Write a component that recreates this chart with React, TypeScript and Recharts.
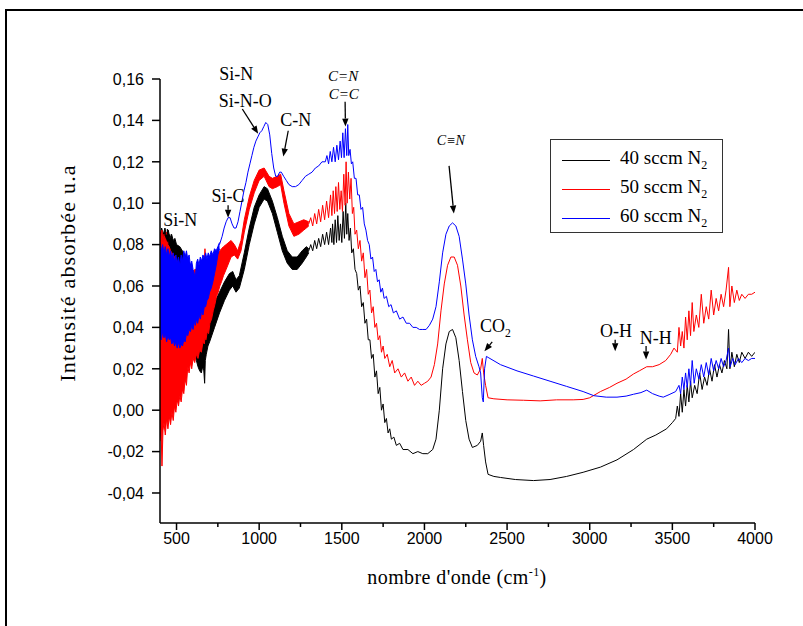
import React from 'react';
import { ComposedChart, Line, Area, XAxis, YAxis, ReferenceDot, ReferenceLine } from 'recharts';

// FTIR spectra.
// *Band arrays: dense, noisy stretches drawn as an envelope [wavenumber, low, high]
// *Trace arrays: the rest of each spectrum as [wavenumber, absorbance]

const band40: [number, number, number][] = [
  [400, 0.064, 0.084], [410, 0.066, 0.088], [420, 0.065, 0.085], [430, 0.068, 0.088], [440, 0.066, 0.084],
  [450, 0.067, 0.087], [460, 0.064, 0.083], [470, 0.065, 0.085], [480, 0.062, 0.082], [490, 0.063, 0.083],
  [500, 0.06, 0.08], [520, 0.058, 0.079], [550, 0.054, 0.075], [580, 0.046, 0.07], [610, 0.03, 0.064],
  [620, 0.024, 0.062], [630, 0.021, 0.06], [640, 0.019, 0.058], [650, 0.018, 0.056], [658, 0.021, 0.054],
  [665, 0.019, 0.05], [670, 0.013, 0.048], [674, 0.024, 0.046], [680, 0.027, 0.044], [690, 0.031, 0.045],
  [700, 0.033, 0.046], [730, 0.04, 0.052], [760, 0.047, 0.057], [790, 0.053, 0.062], [820, 0.058, 0.066],
  [840, 0.06, 0.067], [860, 0.057, 0.063], [880, 0.059, 0.065], [910, 0.068, 0.076], [940, 0.08, 0.088],
  [970, 0.09, 0.098], [1000, 0.098, 0.104], [1030, 0.102, 0.108], [1050, 0.101, 0.107], [1080, 0.095, 0.101],
  [1110, 0.086, 0.093], [1140, 0.077, 0.084], [1170, 0.071, 0.077], [1200, 0.068, 0.074], [1230, 0.068, 0.074],
  [1260, 0.071, 0.077], [1285, 0.074, 0.079], [1300, 0.076, 0.078],
];

const trace40: [number, number][] = [
  [1300, 0.077], [1312, 0.08], [1324, 0.077], [1336, 0.082], [1348, 0.078], [1360, 0.083], [1372, 0.079], [1384, 0.085],
  [1396, 0.08], [1408, 0.086], [1420, 0.08], [1432, 0.088], [1440, 0.081], [1444, 0.09], [1452, 0.08],
  [1460, 0.092], [1468, 0.081], [1476, 0.094], [1484, 0.082], [1492, 0.09], [1500, 0.081], [1508, 0.096], [1516, 0.083],
  [1524, 0.1], [1530, 0.085], [1536, 0.095], [1544, 0.082], [1552, 0.088], [1560, 0.076], [1570, 0.078], [1580, 0.068],
  [1590, 0.066], [1600, 0.058], [1610, 0.06], [1620, 0.05], [1630, 0.052], [1640, 0.042], [1650, 0.044], [1660, 0.034],
  [1670, 0.034], [1680, 0.025], [1690, 0.027], [1700, 0.016], [1710, 0.019], [1720, 0.008], [1730, 0.011], [1740, 0.0],
  [1750, 0.003], [1760, -0.006], [1770, -0.004], [1780, -0.011], [1790, -0.009], [1800, -0.014], [1815, -0.013], [1830, -0.017],
  [1850, -0.016], [1870, -0.019], [1900, -0.019], [1930, -0.021], [1960, -0.02], [1990, -0.021], [2020, -0.021], [2050, -0.019],
  [2070, -0.014], [2090, 0.0], [2110, 0.02], [2130, 0.032], [2150, 0.038], [2170, 0.039], [2190, 0.035], [2210, 0.024],
  [2230, 0.009], [2250, -0.005], [2270, -0.014], [2290, -0.018], [2320, -0.017], [2340, -0.015], [2350, -0.011], [2358, -0.017],
  [2370, -0.025], [2385, -0.031], [2420, -0.032], [2460, -0.0325], [2550, -0.0335], [2660, -0.034], [2760, -0.0335], [2860, -0.032],
  [2960, -0.03], [3065, -0.0275], [3165, -0.024], [3265, -0.019], [3345, -0.014], [3400, -0.012], [3465, -0.009], [3500, -0.006],
  [3520, -0.004], [3530, 0.002], [3540, -0.003], [3550, 0.008], [3560, -0.001], [3570, 0.01], [3580, 0.002], [3590, 0.012],
  [3600, 0.004], [3610, 0.014], [3620, 0.006], [3635, 0.012], [3650, 0.008], [3665, 0.018], [3680, 0.01], [3695, 0.016],
  [3710, 0.012], [3725, 0.02], [3740, 0.014], [3755, 0.022], [3770, 0.016], [3785, 0.022], [3800, 0.018], [3815, 0.024],
  [3830, 0.02], [3840, 0.039], [3848, 0.02], [3860, 0.028], [3875, 0.021], [3890, 0.027], [3905, 0.023], [3920, 0.028],
  [3940, 0.025], [3960, 0.028], [3980, 0.026], [4000, 0.028],
];

const band50: [number, number, number][] = [
  [400, -0.015, 0.086], [406, -0.008, 0.083], [412, -0.027, 0.087], [418, -0.01, 0.081], [424, -0.006, 0.085],
  [432, -0.012, 0.082], [440, -0.004, 0.086], [448, -0.009, 0.08], [456, -0.003, 0.079], [464, -0.007, 0.077],
  [472, -0.001, 0.076], [480, -0.005, 0.075], [488, 0.002, 0.074], [496, -0.001, 0.073], [504, 0.005, 0.072],
  [512, 0.002, 0.071], [520, 0.007, 0.07], [528, 0.004, 0.069], [536, 0.01, 0.068], [544, 0.008, 0.067],
  [552, 0.015, 0.066], [560, 0.012, 0.066], [568, 0.021, 0.065], [576, 0.018, 0.066], [584, 0.023, 0.066],
  [592, 0.02, 0.067], [600, 0.025, 0.067], [610, 0.023, 0.068], [620, 0.027, 0.068], [630, 0.025, 0.069],
  [640, 0.029, 0.069], [650, 0.028, 0.07], [660, 0.033, 0.07], [668, 0.032, 0.071], [672, 0.035, 0.078],
  [678, 0.034, 0.07], [686, 0.038, 0.07], [694, 0.037, 0.071], [702, 0.042, 0.071], [712, 0.044, 0.072],
  [722, 0.048, 0.073], [732, 0.051, 0.074], [742, 0.055, 0.075], [752, 0.057, 0.076], [762, 0.06, 0.077],
  [772, 0.062, 0.078], [784, 0.065, 0.079], [800, 0.068, 0.08], [830, 0.074, 0.082], [850, 0.075, 0.08],
  [870, 0.073, 0.077], [890, 0.077, 0.082], [910, 0.086, 0.092], [940, 0.097, 0.103], [970, 0.105, 0.111],
  [1000, 0.111, 0.116], [1030, 0.113, 0.117], [1060, 0.108, 0.113], [1080, 0.107, 0.112], [1110, 0.108, 0.113],
  [1130, 0.109, 0.114], [1150, 0.1, 0.106], [1180, 0.089, 0.095], [1210, 0.084, 0.09], [1240, 0.085, 0.091],
  [1270, 0.087, 0.092], [1300, 0.089, 0.091],
];

const trace50: [number, number][] = [
  [1300, 0.09], [1312, 0.093], [1324, 0.089], [1336, 0.095], [1348, 0.09], [1360, 0.097], [1372, 0.091], [1384, 0.099],
  [1396, 0.092], [1408, 0.101], [1420, 0.093], [1432, 0.104], [1440, 0.094], [1448, 0.106], [1456, 0.095],
  [1464, 0.108], [1472, 0.096], [1480, 0.11], [1488, 0.097], [1496, 0.106], [1504, 0.096], [1512, 0.114], [1520, 0.099],
  [1526, 0.12], [1532, 0.1], [1540, 0.115], [1548, 0.102], [1556, 0.112], [1564, 0.095], [1572, 0.098], [1580, 0.085],
  [1590, 0.087], [1600, 0.078], [1610, 0.082], [1620, 0.072], [1630, 0.076], [1640, 0.064], [1650, 0.068], [1660, 0.056],
  [1670, 0.058], [1680, 0.047], [1690, 0.05], [1700, 0.04], [1710, 0.042], [1720, 0.034], [1730, 0.036], [1740, 0.028],
  [1750, 0.031], [1760, 0.025], [1775, 0.027], [1790, 0.021], [1805, 0.024], [1820, 0.018], [1840, 0.02], [1860, 0.016],
  [1880, 0.018], [1900, 0.014], [1920, 0.016], [1940, 0.012], [1960, 0.014], [1980, 0.012], [2000, 0.013], [2020, 0.014],
  [2040, 0.016], [2060, 0.022], [2080, 0.032], [2100, 0.048], [2120, 0.061], [2140, 0.07], [2160, 0.074], [2180, 0.074],
  [2200, 0.07], [2220, 0.06], [2240, 0.046], [2260, 0.034], [2280, 0.023], [2300, 0.018], [2320, 0.017], [2340, 0.02],
  [2350, 0.025], [2358, 0.018], [2370, 0.012], [2385, 0.006], [2420, 0.0055], [2500, 0.005], [2600, 0.0048], [2700, 0.0045],
  [2800, 0.005], [2900, 0.005], [2960, 0.0052], [3000, 0.006], [3065, 0.009], [3120, 0.011], [3165, 0.013], [3220, 0.015],
  [3265, 0.0175], [3300, 0.019], [3345, 0.021], [3380, 0.021], [3420, 0.022], [3460, 0.024], [3490, 0.027], [3510, 0.03],
  [3530, 0.028], [3540, 0.04], [3550, 0.031], [3560, 0.038], [3570, 0.03], [3580, 0.045], [3590, 0.034], [3600, 0.048],
  [3610, 0.036], [3620, 0.052], [3630, 0.038], [3645, 0.046], [3660, 0.04], [3675, 0.056], [3690, 0.042], [3705, 0.05],
  [3720, 0.044], [3735, 0.058], [3750, 0.046], [3765, 0.054], [3780, 0.048], [3795, 0.056], [3810, 0.05], [3825, 0.058],
  [3840, 0.069], [3848, 0.05], [3860, 0.06], [3875, 0.052], [3890, 0.058], [3905, 0.053], [3920, 0.056], [3940, 0.054],
  [3960, 0.056], [3980, 0.056], [4000, 0.057],
];

const band60: [number, number, number][] = [
  [400, 0.036, 0.081], [408, 0.034, 0.077], [416, 0.038, 0.08], [424, 0.035, 0.076], [432, 0.037, 0.079],
  [440, 0.033, 0.075], [448, 0.036, 0.078], [456, 0.034, 0.074], [464, 0.035, 0.077], [472, 0.032, 0.073],
  [480, 0.034, 0.076], [488, 0.031, 0.072], [496, 0.033, 0.075], [504, 0.03, 0.071], [512, 0.033, 0.074],
  [520, 0.03, 0.07], [528, 0.032, 0.075], [536, 0.031, 0.072], [544, 0.034, 0.077], [552, 0.033, 0.074],
  [560, 0.037, 0.077], [568, 0.036, 0.073], [576, 0.039, 0.075], [584, 0.038, 0.07], [592, 0.041, 0.072],
  [600, 0.039, 0.068], [608, 0.043, 0.066], [614, 0.041, 0.064], [620, 0.044, 0.071], [628, 0.042, 0.073],
  [636, 0.046, 0.07], [644, 0.044, 0.074], [652, 0.048, 0.072], [660, 0.046, 0.075], [668, 0.05, 0.073],
  [676, 0.05, 0.076], [684, 0.053, 0.073], [692, 0.054, 0.076], [700, 0.057, 0.074], [710, 0.059, 0.077],
  [720, 0.062, 0.075], [730, 0.066, 0.078], [740, 0.07, 0.077], [750, 0.075, 0.079], [760, 0.078, 0.081],
];

const trace60: [number, number][] = [
  [760, 0.08], [776, 0.084], [788, 0.088], [800, 0.091], [812, 0.093], [824, 0.093],
  [836, 0.09], [848, 0.088], [860, 0.088], [872, 0.091], [884, 0.096], [896, 0.101], [908, 0.106], [920, 0.11],
  [932, 0.115], [944, 0.119], [956, 0.123], [968, 0.127], [980, 0.13], [992, 0.132], [1004, 0.134], [1016, 0.135],
  [1028, 0.137], [1040, 0.139], [1052, 0.138], [1064, 0.133], [1076, 0.124], [1088, 0.117], [1100, 0.113], [1112, 0.113],
  [1124, 0.115], [1134, 0.115], [1148, 0.113], [1164, 0.111], [1180, 0.109], [1200, 0.108], [1220, 0.108], [1240, 0.109],
  [1260, 0.111], [1280, 0.113], [1300, 0.114], [1320, 0.115], [1340, 0.117], [1360, 0.118], [1380, 0.12], [1400, 0.12],
  [1410, 0.123], [1420, 0.119], [1430, 0.125], [1440, 0.12], [1450, 0.127], [1460, 0.12], [1470, 0.128], [1480, 0.121],
  [1490, 0.13], [1498, 0.122], [1506, 0.134], [1514, 0.122], [1522, 0.136], [1530, 0.123], [1536, 0.138], [1542, 0.123],
  [1550, 0.126], [1558, 0.119], [1566, 0.12], [1576, 0.112], [1586, 0.112], [1596, 0.104], [1606, 0.104], [1616, 0.097],
  [1626, 0.098], [1636, 0.09], [1646, 0.087], [1656, 0.082], [1666, 0.08], [1676, 0.073], [1686, 0.074], [1696, 0.067],
  [1706, 0.068], [1716, 0.062], [1726, 0.063], [1736, 0.057], [1746, 0.059], [1756, 0.054], [1770, 0.055], [1784, 0.05],
  [1798, 0.051], [1812, 0.047], [1830, 0.048], [1850, 0.044], [1870, 0.045], [1890, 0.042], [1910, 0.042], [1930, 0.04],
  [1950, 0.04], [1970, 0.039], [1990, 0.039], [2010, 0.039], [2030, 0.041], [2050, 0.044], [2070, 0.05], [2090, 0.062],
  [2110, 0.076], [2130, 0.085], [2150, 0.089], [2170, 0.0905], [2190, 0.089], [2210, 0.084], [2230, 0.073], [2250, 0.061],
  [2270, 0.046], [2290, 0.034], [2310, 0.026], [2330, 0.021], [2340, 0.018], [2350, 0.006], [2356, 0.004], [2364, 0.02],
  [2375, 0.026], [2385, 0.0255], [2460, 0.022], [2560, 0.019], [2660, 0.0165], [2760, 0.014], [2860, 0.0115], [2960, 0.009],
  [3025, 0.007], [3100, 0.0063], [3165, 0.0063], [3220, 0.0068], [3265, 0.0077], [3310, 0.0085], [3345, 0.0097], [3380, 0.008],
  [3420, 0.0068], [3445, 0.0063], [3480, 0.0075], [3520, 0.009], [3540, 0.012], [3550, 0.008], [3560, 0.016], [3570, 0.01],
  [3580, 0.018], [3590, 0.011], [3600, 0.02], [3610, 0.012], [3620, 0.024], [3632, 0.013], [3645, 0.02], [3660, 0.015],
  [3675, 0.022], [3690, 0.016], [3705, 0.023], [3720, 0.017], [3735, 0.025], [3750, 0.019], [3765, 0.024], [3780, 0.02],
  [3795, 0.025], [3810, 0.021], [3825, 0.024], [3840, 0.03], [3850, 0.021], [3865, 0.025], [3880, 0.022], [3900, 0.025],
  [3920, 0.023], [3940, 0.025], [3960, 0.024], [3980, 0.025], [4000, 0.025],
];

const seriesNames = ['40 sccm N', '50 sccm N', '60 sccm N'];
const seriesColors = ['#000000', '#ff0000', '#0000ff'];
const seriesBands = [band40, band50, band60];
const seriesTraces = [trace40, trace50, trace60];

const xTicks = [500, 750, 1000, 1250, 1500, 1750, 2000, 2250, 2500, 2750, 3000, 3250, 3500, 3750, 4000];
const yTicks = [-0.05, -0.04, -0.03, -0.02, -0.01, 0, 0.01, 0.02, 0.03, 0.04, 0.05, 0.06, 0.07, 0.08, 0.09, 0.1, 0.11, 0.12, 0.13, 0.14, 0.15, 0.16];

// band assignments: label text placed at [x, y] (data units)
const bandLabels = [
  { text: 'Si-N', x: 523, y: 0.089, size: 18, italic: false },
  { text: 'Si-C', x: 812, y: 0.1005, size: 18, italic: false },
  { text: 'Si-N', x: 861, y: 0.1595, size: 18, italic: false },
  { text: 'Si-N-O', x: 916, y: 0.1465, size: 18, italic: false },
  { text: 'C-N', x: 1222, y: 0.1375, size: 18, italic: false },
  { text: 'C=N', x: 1508, y: 0.159, size: 15, italic: true },
  { text: 'C=C', x: 1512, y: 0.1505, size: 15, italic: true },
  { text: 'C\u2261N', x: 2160, y: 0.128, size: 14, italic: true },
  { text: 'CO', sub: '2', x: 2430, y: 0.038, size: 18, italic: false },
  { text: 'O-H', x: 3159, y: 0.0355, size: 18, italic: false },
  { text: 'N-H', x: 3400, y: 0.032, size: 18, italic: false },
];

const bandArrows = [
  { x1: 445, y1: 0.0875, x2: 445, y2: 0.081 },
  { x1: 812, y1: 0.099, x2: 812, y2: 0.093 },
  { x1: 898, y1: 0.1455, x2: 994, y2: 0.1335 },
  { x1: 1176, y1: 0.135, x2: 1146, y2: 0.1225 },
  { x1: 1520, y1: 0.149, x2: 1522, y2: 0.137 },
  { x1: 2149, y1: 0.118, x2: 2178, y2: 0.095 },
  { x1: 2410, y1: 0.033, x2: 2363, y2: 0.0285 },
  { x1: 3154, y1: 0.034, x2: 3154, y2: 0.0285 },
  { x1: 3341, y1: 0.031, x2: 3341, y2: 0.0245 },
];

const toPoints = (pairs: [number, number][]) => pairs.map(([x, y]) => ({ x, y }));
const toRange = (rows: [number, number, number][]) => rows.map(([x, lo, hi]) => ({ x, range: [lo, hi] }));

const serif = "'Liberation Serif', 'Times New Roman', serif";
const sans = "'Liberation Sans', Arial, sans-serif";

const XTick = ({ x, y, payload }: any) => {
  const major = payload.value % 500 === 0;
  return (
    <g>
      <line x1={x} y1={y} x2={x} y2={y + (major ? 7 : 4)} stroke="#000" strokeWidth={1.5} />
      {major && (
        <text x={x} y={y + 21} textAnchor="middle" fontFamily={sans} fontSize={16} fill="#000">
          {payload.value}
        </text>
      )}
    </g>
  );
};

const YTick = ({ x, y, payload }: any) => {
  const major = Math.round(payload.value * 100) % 2 === 0;
  return (
    <g>
      <line x1={x - (major ? 8 : 4)} y1={y} x2={x} y2={y} stroke="#000" strokeWidth={1.5} />
      {major && (
        <text x={x - 16} y={y} dy="0.36em" textAnchor="end" fontFamily={sans} fontSize={16} fill="#000">
          {payload.value.toFixed(2).replace('.', ',')}
        </text>
      )}
    </g>
  );
};

const Arrow = (props: any) => {
  const { x1, y1, x2, y2 } = props;
  const dx = x2 - x1;
  const dy = y2 - y1;
  const len = Math.sqrt(dx * dx + dy * dy) || 1;
  const ux = dx / len;
  const uy = dy / len;
  const bx = x2 - ux * 8;
  const by = y2 - uy * 8;
  return (
    <g>
      <line x1={x1} y1={y1} x2={bx} y2={by} stroke="#000" strokeWidth={1.3} />
      <polygon
        points={`${x2},${y2} ${bx - uy * 3.2},${by + ux * 3.2} ${bx + uy * 3.2},${by - ux * 3.2}`}
        fill="#000"
      />
    </g>
  );
};

const labelShape = (lab: any) => (props: any) => (
  <text
    x={props.cx}
    y={props.cy}
    textAnchor="middle"
    fontFamily={serif}
    fontSize={lab.size}
    fontStyle={lab.italic ? 'italic' : 'normal'}
    fill="#000"
  >
    {lab.text}
    {lab.sub && (
      <tspan fontSize={lab.size * 0.65} dy={5}>
        {lab.sub}
      </tspan>
    )}
  </text>
);

export default function App() {
  return (
    <div style={{ position: 'absolute', left: 0, top: 0, width: 803, height: 626, background: '#fff', overflow: 'hidden' }}>
      <div
        style={{
          position: 'absolute',
          left: 5,
          top: 9,
          width: 810,
          height: 640,
          borderTop: '2px solid #000',
          borderLeft: '2px solid #000',
        }}
      />
      <div style={{ position: 'absolute', left: 0, top: 0 }}>
        <ComposedChart width={803} height={626} margin={{ top: 79, right: 48, bottom: 73, left: 100 }}>
          <XAxis
            dataKey="x"
            type="number"
            domain={[400, 4000]}
            ticks={xTicks}
            tick={<XTick />}
            tickSize={0}
            tickMargin={0}
            axisLine={{ stroke: '#000', strokeWidth: 1.5 }}
            height={30}
            allowDataOverflow
          />
          <YAxis
            type="number"
            domain={[-0.0545, 0.16]}
            ticks={yTicks}
            tick={<YTick />}
            tickSize={0}
            tickMargin={0}
            axisLine={{ stroke: '#000', strokeWidth: 1.5 }}
            width={60}
            allowDataOverflow
          />
          {seriesNames.map((name, i) => [
            <Area
              key={`${name}-band`}
              data={toRange(seriesBands[i])}
              dataKey="range"
              type="linear"
              stroke={seriesColors[i]}
              strokeWidth={1}
              fill={seriesColors[i]}
              fillOpacity={1}
              dot={false}
              activeDot={false}
              isAnimationActive={false}
            />,
            <Line
              key={`${name}-trace`}
              data={toPoints(seriesTraces[i])}
              dataKey="y"
              type="linear"
              stroke={seriesColors[i]}
              strokeWidth={1}
              dot={false}
              activeDot={false}
              isAnimationActive={false}
            />,
          ])}
          {bandArrows.map((a, i) => (
            <ReferenceLine
              key={`arrow-${i}`}
              segment={[
                { x: a.x1, y: a.y1 },
                { x: a.x2, y: a.y2 },
              ]}
              ifOverflow="visible"
              shape={Arrow}
            />
          ))}
          {bandLabels.map((lab, i) => (
            <ReferenceDot key={`lab-${i}`} x={lab.x} y={lab.y} r={1} ifOverflow="visible" shape={labelShape(lab)} />
          ))}
        </ComposedChart>
      </div>

      {/* legend */}
      <div
        style={{
          position: 'absolute',
          left: 550,
          top: 139,
          width: 171,
          height: 92,
          border: '1px solid #333',
          fontFamily: serif,
          fontSize: 19,
        }}
      >
        {seriesNames.map((name, i) => (
          <div key={name} style={{ position: 'absolute', left: 0, top: 8 + i * 29, height: 24, display: 'flex', alignItems: 'center' }}>
            <div style={{ marginLeft: 11, width: 48, height: 0, borderTop: `1px solid ${seriesColors[i]}` }} />
            <span style={{ marginLeft: 10, whiteSpace: 'nowrap' }}>
              {name}
              <sub style={{ fontSize: 12 }}>2</sub>
            </span>
          </div>
        ))}
      </div>

      {/* axis titles */}
      <div
        style={{
          position: 'absolute',
          left: 457,
          top: 565,
          transform: 'translateX(-50%)',
          fontFamily: serif,
          fontSize: 20,
          letterSpacing: 0.4,
          whiteSpace: 'nowrap',
        }}
      >
        nombre d'onde (cm<sup style={{ fontSize: 12 }}>-1</sup>)
      </div>
      <div
        style={{
          position: 'absolute',
          left: 68,
          top: 273,
          transform: 'translate(-50%, -50%) rotate(-90deg)',
          fontFamily: serif,
          fontSize: 22,
          letterSpacing: 1.2,
          whiteSpace: 'nowrap',
        }}
      >
        Intensité absorbée u.a
      </div>
    </div>
  );
}
